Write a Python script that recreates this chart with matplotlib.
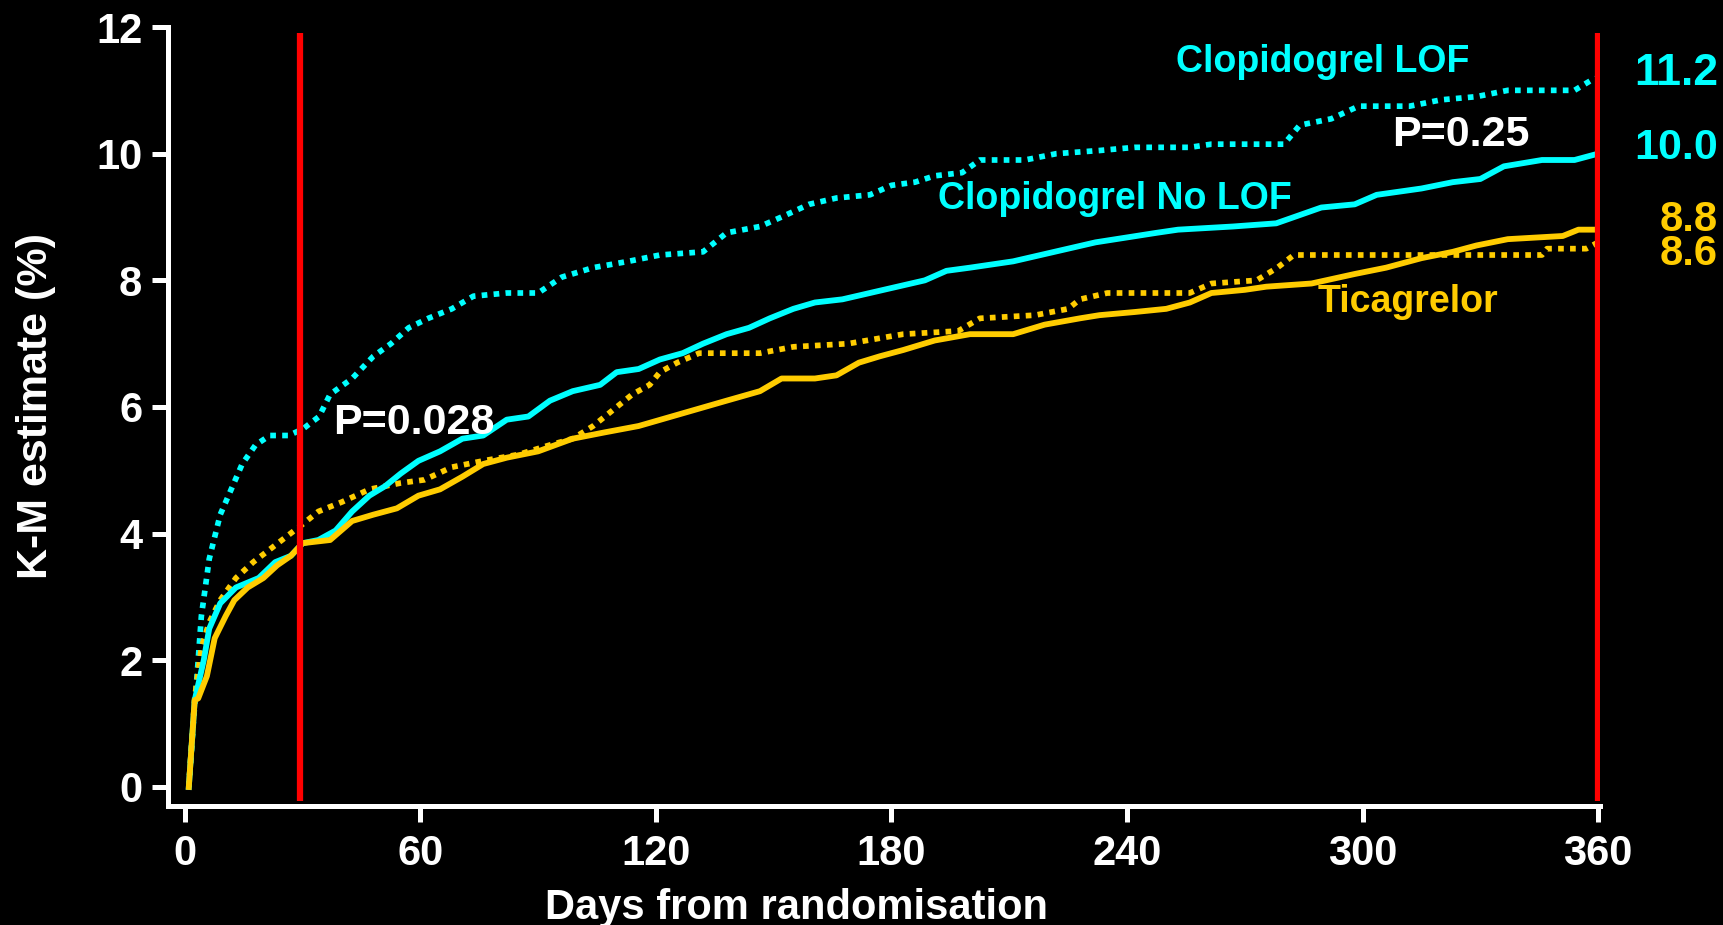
import matplotlib
matplotlib.use("Agg")
import matplotlib.pyplot as plt

# ---- data (day, K-M estimate %) ----
clop_lof = [(1, 0), (2.5, 1.3), (2.8, 1.5), (4.2, 2.7), (6.2, 3.6), (9, 4.3), (11.8, 4.7), (14.6, 5.1),
            (18, 5.4), (21.6, 5.55), (26.4, 5.55), (30, 5.65), (34.2, 5.85), (37, 6.2), (42.6, 6.45),
            (48, 6.8), (52.5, 7.0), (57, 7.25), (62, 7.4), (68, 7.55), (73.5, 7.75), (82, 7.8), (90, 7.8),
            (96, 8.05), (104, 8.2), (113, 8.3), (121, 8.4), (132, 8.45), (138, 8.75), (146.5, 8.85),
            (152, 9.0), (159, 9.2), (166, 9.3), (174.5, 9.35), (180, 9.5), (186, 9.55), (191, 9.65),
            (198, 9.7), (202.5, 9.9), (214, 9.9), (222, 10.0), (233, 10.05), (242, 10.1), (256, 10.1),
            (261.5, 10.15), (280, 10.15), (284, 10.45), (292, 10.55), (299, 10.75), (312, 10.75),
            (320, 10.85), (329, 10.9), (337, 11.0), (354, 11.0), (358, 11.15), (360, 11.2)]

clop_nolof = [(1, 0), (2.5, 1.37), (4.8, 2.0), (6.2, 2.5), (9, 2.9), (13, 3.15), (18.8, 3.3), (23, 3.55),
              (27, 3.65), (30, 3.85), (34, 3.9), (38.4, 4.05), (42.6, 4.35), (47, 4.6), (51, 4.75),
              (55, 4.95), (59.5, 5.15), (65, 5.3), (70.7, 5.5), (76, 5.55), (82, 5.8), (87.5, 5.85),
              (93, 6.1), (98.8, 6.25), (105.8, 6.35), (110, 6.55), (115.6, 6.6), (121, 6.75), (126.8, 6.85),
              (132, 7.0), (138, 7.15), (143.7, 7.25), (149, 7.4), (155, 7.55), (160.5, 7.65), (167.5, 7.7),
              (174.5, 7.8), (181.5, 7.9), (188.5, 8.0), (194, 8.15), (200, 8.2), (211, 8.3), (218, 8.4),
              (225, 8.5), (232, 8.6), (247.5, 8.75), (253, 8.8), (267, 8.85), (278, 8.9), (289.5, 9.15),
              (298, 9.2), (303.6, 9.35), (315, 9.45), (323, 9.55), (330, 9.6), (336, 9.8), (345.7, 9.9),
              (354, 9.9), (360, 10.0)]

tica_nolof = [(1, 0), (2.5, 1.37), (3.4, 1.4), (5.6, 1.75), (7.6, 2.35), (10.4, 2.7), (12.6, 2.95), (16, 3.15),
              (20, 3.3), (23.5, 3.5), (27, 3.65), (30, 3.85), (37, 3.9), (42.6, 4.2), (48, 4.3), (54, 4.4),
              (59.5, 4.6), (65, 4.7), (70.7, 4.9), (76, 5.1), (82, 5.2), (90, 5.3), (98.8, 5.5), (107, 5.6),
              (115.6, 5.7), (124, 5.85), (129.6, 5.95), (138, 6.1), (146.5, 6.25), (152, 6.45), (160.5, 6.45),
              (166, 6.5), (171.7, 6.7), (177, 6.8), (183, 6.9), (191, 7.05), (200, 7.15), (211, 7.15),
              (219, 7.3), (228, 7.4), (233, 7.45), (242, 7.5), (250, 7.55), (256, 7.65), (261.5, 7.8),
              (270, 7.85), (275.5, 7.9), (287, 7.95), (298, 8.1), (306, 8.2), (315, 8.35), (323, 8.45),
              (329, 8.55), (337, 8.65), (351, 8.7), (355, 8.8), (360, 8.8)]

tica_lof = [(1, 0), (2.5, 1.4), (4.2, 2.2), (6.2, 2.6), (9, 2.95), (13, 3.3), (17.4, 3.55), (21.6, 3.75),
            (25.8, 3.95), (30, 4.15), (34, 4.35), (40, 4.5), (47, 4.7), (55, 4.8), (61, 4.85), (68, 5.05),
            (76, 5.15), (85, 5.25), (93, 5.4), (98.8, 5.5), (104, 5.7), (110, 6.0), (114, 6.2), (118.4, 6.35),
            (121, 6.55), (125.4, 6.7), (131, 6.85), (146.5, 6.85), (155, 6.95), (169, 7.0), (183, 7.15),
            (197, 7.2), (202.5, 7.4), (216.6, 7.45), (225, 7.55), (228, 7.7), (235, 7.8), (256, 7.8),
            (261.5, 7.95), (273, 8.0), (278.3, 8.2), (282.5, 8.4), (345.7, 8.4), (347, 8.5), (357, 8.5),
            (360, 8.6)]

x_ticks = [0, 60, 120, 180, 240, 300, 360]
y_ticks = [0, 2, 4, 6, 8, 10, 12]
landmark_days = [29.3, 360]
end_labels = ["11.2", "10.0", "8.8", "8.6"]
end_label_y = [11.27, 10.09, 8.96, 8.42]
series_labels = ["Clopidogrel LOF", "Clopidogrel No LOF", "Ticagrelor"]
p_labels = ["P=0.028", "P=0.25"]

CYAN = "#00FFFF"
GOLD = "#FFCC00"
RED = "#FF0000"

plt.rcParams["font.family"] = ["Liberation Sans", "DejaVu Sans"]
plt.rcParams["font.weight"] = "bold"

fig = plt.figure(figsize=(17.24, 9.25), dpi=100, facecolor="black")
ax = fig.add_axes([0.09745, 0.12865, 0.9281 - 0.09745, 0.97081 - 0.12865])
ax.set_facecolor("black")


def xy(series):
    return [p[0] for p in series], [p[1] for p in series]


lw_solid = 4.2
lw_dot = 4.1
dot_style = (0, (1, 1.1))
x, y = xy(clop_lof)
ax.plot(x, y, color=CYAN, lw=lw_dot, linestyle=dot_style, dash_capstyle="butt", zorder=2)
x, y = xy(tica_lof)
ax.plot(x, y, color=GOLD, lw=lw_dot, linestyle=dot_style, dash_capstyle="butt", zorder=2)
x, y = xy(clop_nolof)
ax.plot(x, y, color=CYAN, lw=lw_solid, zorder=3)
x, y = xy(tica_nolof)
ax.plot(x, y, color=GOLD, lw=lw_solid, zorder=4)

for d in landmark_days:
    ax.plot([d, d], [-0.22, 11.9], color=RED, lw=4.5, zorder=5, solid_capstyle="butt")

ax.set_xlim(-4.3, 360.5)
ax.set_ylim(-0.3, 12)
for s in ["top", "right"]:
    ax.spines[s].set_visible(False)
for s in ["left", "bottom"]:
    ax.spines[s].set_color("white")
    ax.spines[s].set_linewidth(3.6)
    ax.spines[s].set_capstyle("projecting")

ax.set_xticks(x_ticks)
ax.set_yticks(y_ticks)
ax.tick_params(axis="both", colors="white", width=3.6, length=11.5, labelsize=30)
ax.tick_params(axis="y", pad=7)
ax.tick_params(axis="x", pad=9)
for lab in ax.get_xticklabels() + ax.get_yticklabels():
    lab.set_fontweight("bold")

ax.set_xlabel("Days from randomisation", color="white", fontsize=30, fontweight="bold", labelpad=10)
ax.xaxis.label.set_x(0.439)
ax.set_ylabel("K-M estimate (%)", color="white", fontsize=31, fontweight="bold", labelpad=29)
ax.yaxis.label.set_y(0.513)

fs_series = 27
fs_p = 31
ax.text(289.8, 11.44, series_labels[0], color=CYAN, fontsize=fs_series, fontweight="bold", ha="center", va="center")
ax.text(236.8, 9.29, series_labels[1], color=CYAN, fontsize=fs_series, fontweight="bold", ha="center", va="center")
ax.text(311.5, 7.66, series_labels[2], color=GOLD, fontsize=fs_series, fontweight="bold", ha="center", va="center")
ax.text(58.4, 5.75, p_labels[0], color="white", fontsize=fs_p, fontweight="bold", ha="center", va="center")
ax.text(325, 10.3, p_labels[1], color="white", fontsize=fs_p, fontweight="bold", ha="center", va="center")

end_colors = [CYAN, CYAN, GOLD, GOLD]
end_sizes = [32, 31, 30, 30]
for lab, yy, c, sz in zip(end_labels, end_label_y, end_colors, end_sizes):
    ax.text(390.5, yy, lab, color=c, fontsize=sz, fontweight="bold", ha="right", va="center",
            clip_on=False)

fig.savefig("out.png", dpi=100, facecolor="black")
